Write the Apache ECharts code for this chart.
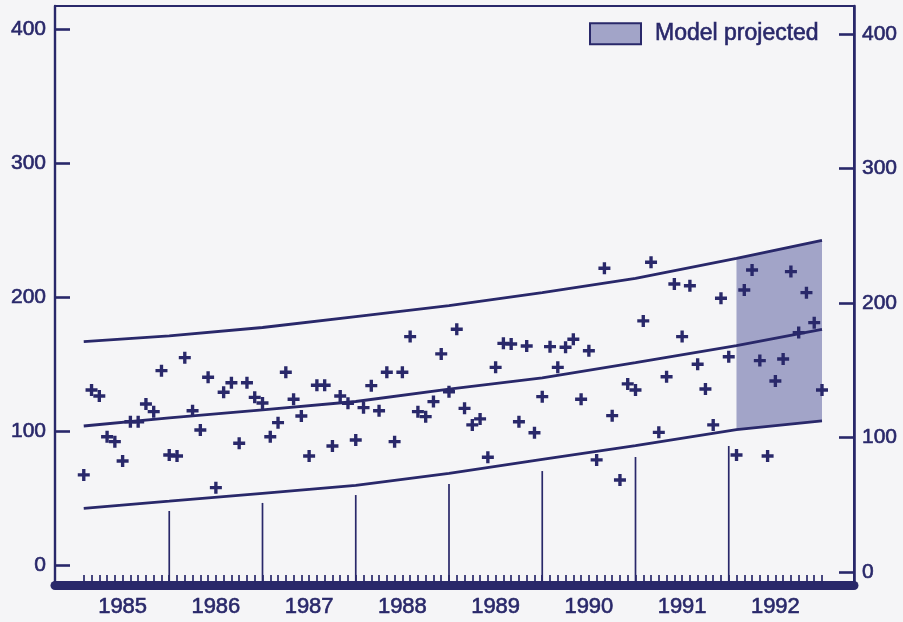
<!DOCTYPE html>
<html>
<head>
<meta charset="utf-8">
<script src="https://cdn.jsdelivr.net/npm/echarts@6/dist/echarts.min.js"></script>
<style>
html,body{margin:0;padding:0;background:#f5f5f7;}
#chart{width:903px;height:622px;}
</style>
</head>
<body>
<div id="chart"></div>
<script>
// ---- data ----
const startYear = 1985;            // monthly observations Jan 1985 .. Dec 1992 (plotted at month end)
const observed = [
  67.2,130.6,126.1,95.7,92.0,77.6,106.9,106.9,120.1,114.4,145.0,82.1,
  81.3,154.7,115.1,100.7,140.1,57.7,128.9,136.0,90.8,136.0,125.1,120.9,
  95.7,106.2,143.8,123.7,111.2,81.3,134.1,134.1,88.8,126.1,120.7,93.3,
  117.4,133.8,115.1,143.8,92.0,143.8,170.4,114.4,110.7,121.9,157.5,129.3,
  175.9,116.9,104.5,109.0,80.4,147.5,165.4,164.9,106.9,163.4,98.7,125.6,
  162.9,147.5,162.5,168.4,123.7,159.9,78.4,221.4,111.4,63.4,135.1,130.6,
  182.1,225.9,99.0,140.5,209.7,170.4,208.4,149.8,131.3,104.5,199.0,155.4,
  82.1,205.2,220.1,152.5,81.3,137.3,153.7,218.9,173.4,203.2,180.8,130.6
];
const lineYears  = [1985.083, 1986, 1987, 1988, 1989, 1990, 1991, 1992.083, 1993];
const upperBand  = [166.6, 171.0, 177.2, 185.4, 193.5, 203.2, 213.8, 228.7, 242.2];
const centerLine = [103.7, 109.7, 115.7, 122.0, 131.2, 139.6, 151.0, 163.6, 175.9];
const lowerBand  = [42.3, 47.6, 53.5, 59.4, 68.4, 78.8, 89.0, 101.0, 107.5];
const projectionStart = 1992.083;
const dividerYears   = [1986, 1987, 1988, 1989, 1990, 1991, 1992];
const dividerHeights = [40.3, 46.3, 52.2, 60.4, 70.1, 80.6, 88.8];
const yearLabels = [1985, 1986, 1987, 1988, 1989, 1990, 1991, 1992];
const yTicks = [0, 100, 200, 300, 400];
const legendName = 'Model projected';

// ---- build ----
const navy = '#29286a';
const shade = '#a2a4c8';
const font = "'Liberation Sans', Arial, Helvetica, sans-serif";
const X_MIN = 1984.7748, X_MAX = 1993.3432;
const Y_MIN = -14.93, Y_MAX = 417.1;

const obsData = observed.map((v, i) => [startYear + (i + 1) / 12, v]);
const pair = (arr) => lineYears.map((y, i) => [y, arr[i]]);
const projIdx = lineYears.map((y, i) => i).filter(i => lineYears[i] >= projectionStart);
const projData = projIdx.map(i => [lineYears[i], lowerBand[i], upperBand[i]]);
const monthTicks = [];
for (let k = 1; k <= (yearLabels.length) * 12; k++) monthTicks.push(startYear + k / 12);

const cross = 'path://M3.6,0H6.4V3.6H10V6.4H6.4V10H3.6V6.4H0V3.6H3.6Z';
const heavy = { textBorderColor: navy, textBorderWidth: 0.6 };

const lineSeries = (arr) => ({
  type: 'line', data: pair(arr), xAxisIndex: 0, yAxisIndex: 0,
  showSymbol: false, symbol: 'none', z: 4, silent: true,
  lineStyle: { color: navy, width: 2.8 }
});

const option = {
  animation: false,
  backgroundColor: '#f5f5f7',
  textStyle: { fontFamily: font },
  grid: { left: 55, right: 49, top: 6, bottom: 37, show: true, borderColor: navy, borderWidth: 2, backgroundColor: 'transparent' },
  legend: {
    left: 589, top: 22, padding: 0,
    itemWidth: 51, itemHeight: 21,
    data: [{ name: legendName, icon: 'rect', itemStyle: { color: shade, borderColor: navy, borderWidth: 2 } }],
    textStyle: Object.assign({ fontSize: 23, color: navy, fontFamily: font, padding: [0, 0, 0, 9] }, heavy)
  },
  xAxis: [{
    type: 'value', min: X_MIN, max: X_MAX, position: 'bottom',
    axisLine: { show: true, onZero: false, lineStyle: { color: navy, width: 9 } },
    axisTick: { show: true, inside: true, length: 10, customValues: monthTicks, lineStyle: { color: navy, width: 1.7 } },
    axisLabel: Object.assign({ show: true, customValues: yearLabels.map(y => y + 0.5), formatter: v => String(Math.floor(v)),
      fontSize: 22, color: navy, margin: 11, fontFamily: font }, heavy),
    splitLine: { show: false }
  }],
  yAxis: [{
    type: 'value', min: Y_MIN, max: Y_MAX, position: 'left',
    axisLine: { show: true, lineStyle: { color: navy, width: 2.4 } },
    axisTick: { show: true, inside: true, length: 15, customValues: yTicks, lineStyle: { color: navy, width: 2.6 } },
    axisLabel: Object.assign({ show: true, customValues: yTicks, fontSize: 21, color: navy, margin: 9, fontFamily: font }, heavy),
    splitLine: { show: false }
  }, {
    type: 'value', min: -9.67, max: 420.8, position: 'right',
    axisLine: { show: true, lineStyle: { color: navy, width: 2.6 } },
    axisTick: { show: true, inside: true, length: 15, customValues: yTicks, lineStyle: { color: navy, width: 2.6 } },
    axisLabel: Object.assign({ show: true, customValues: yTicks, fontSize: 21, color: navy, margin: 8, fontFamily: font }, heavy),
    splitLine: { show: false }
  }],
  series: [
    {
      name: legendName, type: 'custom', z: 1, silent: true,
      data: [0], itemStyle: { color: shade },
      renderItem: (params, api) => {
        const top = projData.map(d => api.coord([d[0], d[2]]));
        const bot = projData.slice().reverse().map(d => api.coord([d[0], d[1]]));
        return { type: 'polygon', shape: { points: top.concat(bot) }, style: { fill: shade, stroke: null } };
      }
    },
    {
      name: 'dividers', type: 'custom', z: 3, silent: true,
      data: dividerYears.map((y, i) => [y, dividerHeights[i]]),
      encode: { x: 0, y: 1 },
      renderItem: (params, api) => {
        const top = api.coord([api.value(0), api.value(1)]);
        const bot = api.coord([api.value(0), Y_MIN]);
        return { type: 'line', shape: { x1: top[0], y1: top[1], x2: bot[0], y2: bot[1] },
          style: { stroke: navy, lineWidth: 1.7 } };
      }
    },
    lineSeries(upperBand),
    lineSeries(centerLine),
    lineSeries(lowerBand),
    { name: 'observed', type: 'scatter', data: obsData, symbol: cross, symbolSize: 12, z: 5, silent: true,
      itemStyle: { color: navy, opacity: 1 } }
  ]
};

const chart = echarts.init(document.getElementById('chart'), null, { renderer: 'canvas' });
chart.setOption(option);
</script>
</body>
</html>
